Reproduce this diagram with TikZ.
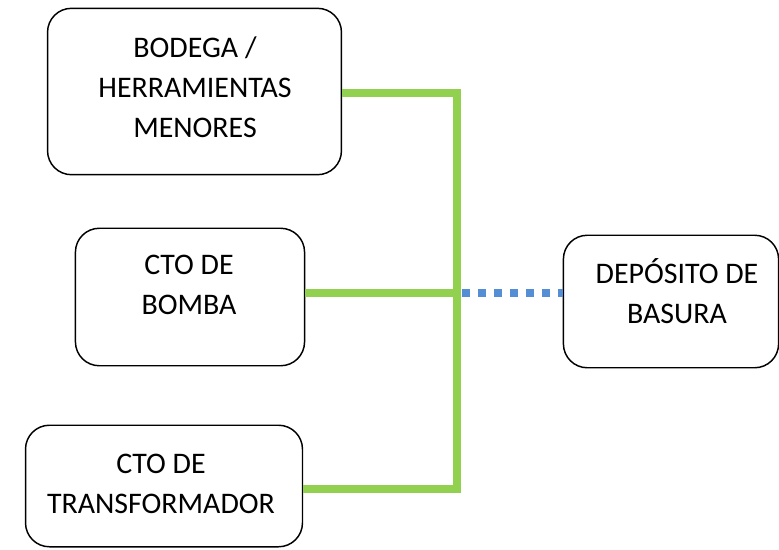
\documentclass[tikz,border=0pt]{standalone}
\usepackage{fontspec}
\setmainfont{Carlito}
\definecolor{linegreen}{HTML}{92D050}
\definecolor{lineblue}{HTML}{558ED5}
\tikzset{
    roombox/.style={draw=black, line width=1.1pt, rounded corners=18pt, fill=white},
    roomtext/.style={align=center, font=\fontsize{22.5pt}{30pt}\selectfont, inner sep=0pt},
    feed/.style={draw=linegreen, line width=5.5pt},
    dotline/.style={draw=lineblue, line width=5.5pt, dash pattern=on 5.8pt off 6.2pt}
}
\begin{document}
\begin{tikzpicture}[x=0.0264583cm, y=-0.0264583cm]
    \useasboundingbox (0,0) rectangle (779,549);

    % boxes (sizes in pt, 1px = 0.75pt)
    \node[roombox, minimum width=221.25pt, minimum height=125.25pt] (bodega) at (194.5,91.5) {};
    \node[roombox, minimum width=172.5pt, minimum height=103.5pt] (bomba) at (190,297) {};
    \node[roombox, minimum width=208.5pt, minimum height=91.5pt] (trafo) at (164,486) {};
    \node[roombox, minimum width=162pt, minimum height=99.75pt] (basura) at (671,301.5) {};

    % texts
    \node[roomtext] (bodegatxt) at (195,87) {BODEGA /\\HERRAMIENTAS\\MENORES};
    \node[roomtext] (bombatxt) at (189,285) {CTO DE\\BOMBA};
    \node[roomtext] (trafotxt) at (161,484) {CTO DE\\TRANSFORMADOR};
    \node[roomtext] (basuratxt) at (677,291) {DEPÓSITO DE\\BASURA};

    % junctions
    \coordinate (topjn) at (457,93);
    \coordinate (midjn) at (457,293);
    \coordinate (botjn) at (457,489);

    % feeders
    \draw[feed] (bodega.east |- topjn) -- (topjn) -- (botjn) -- (trafo.east |- botjn);
    \draw[feed] (bomba.east |- midjn) -- (midjn);
    \draw[dotline] ([xshift=4]midjn) -- (midjn -| basura.west);

\end{tikzpicture}
\end{document}
